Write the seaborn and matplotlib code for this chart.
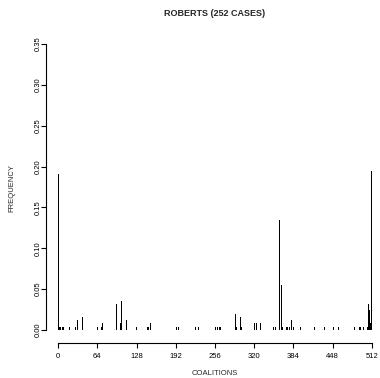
import numpy as np
import pandas as pd
import matplotlib
matplotlib.use("Agg")
import matplotlib.pyplot as plt
import seaborn as sns

# Data: coalition index and number of cases (out of 252)
n_cases = 252
coalitions = [0, 2, 4, 7, 9, 18, 29, 31, 40, 64, 71, 72, 96, 102, 104, 111, 128,
              146, 148, 151, 193, 197, 224, 229, 257, 260, 263, 265, 289, 291,
              297, 299, 321, 324, 330, 351, 355, 362, 364, 366, 372, 375, 377,
              380, 381, 384, 396, 418, 434, 450, 458, 484, 491, 494, 499, 504,
              506, 508, 509, 511]
counts = [48, 1, 1, 1, 1, 1, 1, 3, 4, 1, 1, 2, 8, 2, 9, 3, 1,
          1, 1, 2, 1, 1, 1, 1, 1, 1, 1, 1, 5, 1,
          4, 1, 2, 2, 2, 1, 1, 34, 14, 1, 1, 1, 1,
          2, 3, 1, 1, 1, 1, 1, 1, 1, 1, 1, 1, 1,
          8, 6, 2, 49]
x_ticks = [0, 64, 128, 192, 256, 320, 384, 448, 512]
y_ticks = [0.00, 0.05, 0.10, 0.15, 0.20, 0.25, 0.30, 0.35]

df = pd.DataFrame({"coalition": coalitions,
                   "frequency": np.array(counts) / n_cases})

sns.set_style("ticks")
plt.rcParams["font.family"] = ["Liberation Sans", "DejaVu Sans"]

W, H = 380, 378
fig = plt.figure(figsize=(W / 100, H / 100), dpi=100)
# axes box in pixels
left, right, top, bottom = 45.5, 384.5, 32.6, 343.0
ax = fig.add_axes([left / W, (H - bottom) / H, (right - left) / W, (bottom - top) / H])

sns.barplot(data=df, x="coalition", y="frequency", native_scale=True,
            orient="x", color="black", width=1.6, linewidth=0,
            errorbar=None, ax=ax)

ax.set_xlim(-20.5, 532.5)
ax.set_ylim(-0.016, 0.364)
ax.set_xticks(x_ticks)
ax.set_xticklabels([str(t) for t in x_ticks])
ax.set_yticks(y_ticks)
ax.set_yticklabels([f"{t:.2f}" for t in y_ticks], rotation=90, va="center")

for s in ["top", "right"]:
    ax.spines[s].set_visible(False)
ax.spines["left"].set_bounds(0, 0.35)
ax.spines["bottom"].set_bounds(0, 512)
for s in ["left", "bottom"]:
    ax.spines[s].set_linewidth(0.8)
    ax.spines[s].set_color("black")

ax.tick_params(axis="both", direction="out", length=3.5, width=0.8,
               labelsize=5.5, colors="black")
ax.tick_params(axis="x", pad=4)
ax.tick_params(axis="y", pad=-0.5)

ax.set_xlabel("COALITIONS", fontsize=5.5, labelpad=7)
ax.set_ylabel("FREQUENCY", fontsize=5.5, labelpad=14)
ax.set_title("ROBERTS (252 CASES)", fontsize=6.5, fontweight="bold", pad=12,
             x=0.5)

fig.savefig("out.png", dpi=100)
